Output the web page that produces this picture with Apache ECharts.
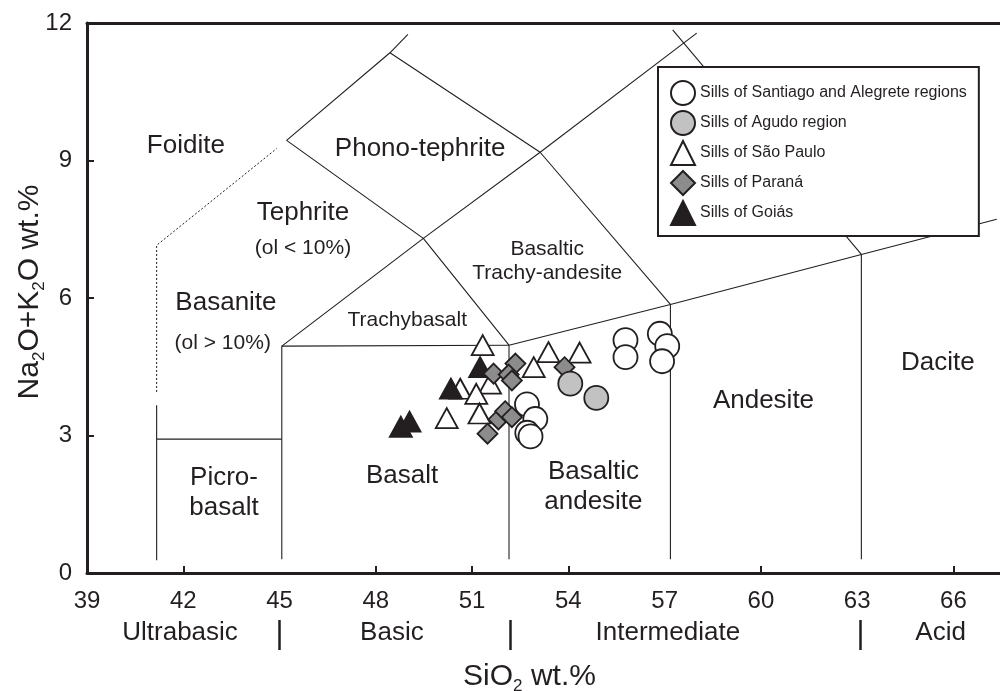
<!DOCTYPE html>
<html lang="en">
<head>
    <meta charset="UTF-8">
    <script src="https://cdn.jsdelivr.net/npm/echarts@6/dist/echarts.min.js"></script>
    <title>TAS diagram - sills</title>
    <style>
        html, body { margin: 0; padding: 0; background: #fff; }
    </style>
</head>
<body>
<div id="main" style="width: 1000px;height:691px;"></div>
<script type="text/javascript">
    // sample points, [SiO2, Na2O+K2O]
    var santiago = [[55.78,5.08],[55.78,4.71],[56.85,5.22],[57.08,4.95],[56.92,4.62],
                    [52.71,3.68],[52.97,3.36],[52.72,3.06],[52.82,2.98]];
    var agudo = [[54.06,4.13],[54.87,3.82]];
    var saoPaulo = [[51.33,4.97],[53.38,4.82],[54.35,4.81],[52.92,4.49],[51.56,4.13],
                    [50.63,4.02],[51.13,3.91],[50.21,3.38],[51.23,3.48]];
    var parana = [[52.35,4.57],[51.67,4.35],[52.14,4.33],[52.24,4.20],[53.88,4.49],
                  [51.82,3.35],[52.03,3.53],[52.24,3.40],[51.48,3.04]];
    var goias = [[51.25,4.49],[50.34,4.02],[48.78,3.19],[49.05,3.30]];

    // field boundaries of the TAS diagram
    var boundaries = [
        [[45.07,0.3],[45.07,4.95],[52.15,4.97]],
        [[52.15,0.3],[52.15,4.97],[57.18,5.86],[63.13,6.95],[67.35,7.72]],
        [[57.18,0.3],[57.18,5.86],[53.12,9.18],[48.44,11.35],[45.22,9.44],[49.48,7.30],[52.15,4.97]],
        [[45.07,4.95],[49.48,7.30],[53.12,9.18],[58.0,11.78]],
        [[48.44,11.35],[49.0,11.75]],
        [[57.25,11.85],[63.13,6.95],[63.13,0.3]],
        [[41.17,0.28],[41.17,3.66]],
        [[41.17,2.92],[45.07,2.92]]
    ];
    var dottedBoundary = [[41.17,3.95],[41.17,7.15],[44.91,9.26]];

    // rock names
    var bigNames = [
        ['Foidite', 42.08, 9.33],
        ['Phono-tephrite', 49.38, 9.26],
        ['Tephrite', 45.73, 7.85],
        ['Basanite', 43.33, 5.89],
        ['Picro-\nbasalt', 43.27, 1.74],
        ['Basalt', 48.82, 2.13],
        ['Basaltic\nandesite', 54.78, 1.87],
        ['Andesite', 60.08, 3.75],
        ['Dacite', 65.51, 4.58]
    ];
    var smallNames = [
        ['(ol < 10%)', 45.73, 7.09],
        ['(ol > 10%)', 43.23, 5.01],
        ['Trachybasalt', 48.98, 5.51],
        ['Basaltic\nTrachy-andesite', 53.34, 6.80]
    ];

    var xTicks = [39, 42, 45, 48, 51, 54, 57, 60, 63, 66];
    var xTickMarks = [42, 48, 51, 54, 60, 66];
    var yTicks = [0, 3, 6, 9, 12];
    var yTickMarks = [3, 6, 9];
    var classNames = ['Ultrabasic', 'Basic', 'Intermediate', 'Acid'];
    var classCenters = [41.9, 48.5, 57.1, 65.6];
    var classBounds = [45, 52.2, 63.1];

    var ink = '#231f20';
    var font = "'Liberation Sans', Arial, Helvetica, sans-serif";

    var myChart = echarts.init(document.getElementById('main'));

    var series = [];
    boundaries.forEach(function (b) {
        series.push({
            type: 'line', data: b, showSymbol: false, silent: true, z: 1,
            lineStyle: {color: ink, width: 1.1}
        });
    });
    series.push({
        type: 'line', data: dottedBoundary, showSymbol: false, silent: true, z: 1,
        lineStyle: {color: ink, width: 1, type: [2, 2]}
    });

    function nameSeries(list, size, lh) {
        return {
            type: 'scatter', silent: true, z: 2, symbolSize: 1,
            itemStyle: {color: 'transparent', opacity: 1},
            data: list.map(function (n) { return {name: n[0], value: [n[1], n[2]]}; }),
            label: {
                show: true, position: 'inside', formatter: '{b}',
                color: ink, fontFamily: font, fontSize: size, lineHeight: lh, align: 'center'
            }
        };
    }
    series.push(nameSeries(bigNames, 26, 30));
    series.push(nameSeries(smallNames, 21, 24));

    var mk = {borderColor: ink, borderWidth: 1.8, opacity: 1};
    series.push({
        name: 'Sills of São Paulo', type: 'scatter', z: 3, data: saoPaulo,
        symbol: 'triangle', symbolSize: [22, 20],
        itemStyle: Object.assign({color: '#ffffff'}, mk)
    });
    series.push({
        name: 'Sills of Goiás', type: 'scatter', z: 3, data: goias,
        symbol: 'triangle', symbolSize: [22, 20],
        itemStyle: Object.assign({color: ink}, mk)
    });
    series.push({
        name: 'Sills of Paraná', type: 'scatter', z: 3, data: parana,
        symbol: 'diamond', symbolSize: [20, 20],
        itemStyle: Object.assign({color: '#8c8c8c'}, mk)
    });
    series.push({
        name: 'Sills of Santiago and Alegrete regions', type: 'scatter', z: 3, data: santiago,
        symbol: 'circle', symbolSize: 24,
        itemStyle: Object.assign({color: '#ffffff'}, mk)
    });
    series.push({
        name: 'Sills of Agudo region', type: 'scatter', z: 3, data: agudo,
        symbol: 'circle', symbolSize: 24,
        itemStyle: Object.assign({color: '#c2c2c2'}, mk)
    });

    var option = {
        animation: false,
        backgroundColor: '#fff',
        textStyle: {fontFamily: font, color: ink},
        grid: {left: 87, right: 0, top: 23, bottom: 118, containLabel: false, outerBoundsMode: 'none'},
        legend: {
            orient: 'vertical', left: 658, top: 67,
            backgroundColor: '#fff', borderColor: ink, borderWidth: 2, borderRadius: 0,
            padding: [13, 12, 10, 12], itemGap: 4, itemWidth: 24, itemHeight: 24,
            textStyle: {fontSize: 16, color: ink, fontFamily: font},
            data: ['Sills of Santiago and Alegrete regions', 'Sills of Agudo region',
                   'Sills of São Paulo', 'Sills of Paraná', 'Sills of Goiás']
        },
        xAxis: [
            {
                type: 'value', min: 39, max: 67.45, interval: 3, position: 'bottom',
                name: '{n|SiO}{s|2}{n| wt.%}', nameLocation: 'middle', nameGap: 86,
                nameTextStyle: {
                    padding: [0, 28, 0, 0],
                    rich: {
                        n: {fontSize: 30, lineHeight: 36, color: ink, fontFamily: font},
                        s: {fontSize: 17, lineHeight: 17, verticalAlign: 'bottom', color: ink, fontFamily: font}
                    }
                },
                splitLine: {show: false},
                axisLine: {lineStyle: {color: ink, width: 3}},
                axisTick: {inside: true, length: 7, customValues: xTickMarks, lineStyle: {color: ink, width: 2}},
                axisLabel: {customValues: xTicks, fontSize: 24, color: ink, margin: 16}
            },
            {
                type: 'value', min: 39, max: 67.45, position: 'bottom', offset: 47,
                splitLine: {show: false},
                axisLine: {show: false},
                axisTick: {show: true, inside: false, length: 30, customValues: classBounds,
                           lineStyle: {color: ink, width: 2.5}},
                axisLabel: {
                    customValues: classCenters, fontSize: 26, color: ink, margin: 0,
                    formatter: function (v) {
                        var i = classCenters.indexOf(v);
                        return i >= 0 ? classNames[i] : '';
                    }
                }
            },
            {
                type: 'value', min: 39, max: 67.45, position: 'top',
                splitLine: {show: false},
                axisLine: {lineStyle: {color: ink, width: 3}},
                axisTick: {show: false},
                axisLabel: {show: false}
            }
        ],
        yAxis: {
            type: 'value', min: 0, max: 12, interval: 3,
            name: '{n|Na}{s|2}{n|O+K}{s|2}{n|O wt.%}', nameLocation: 'middle', nameGap: 39, nameRotate: 90,
            nameMoveOverlap: false,
            nameTextStyle: {
                padding: [0, 0, 0, 12],
                rich: {
                    n: {fontSize: 30, lineHeight: 36, color: ink, fontFamily: font},
                    s: {fontSize: 17, lineHeight: 17, verticalAlign: 'bottom', color: ink, fontFamily: font}
                }
            },
            splitLine: {show: false},
            axisLine: {lineStyle: {color: ink, width: 3}},
            axisTick: {inside: true, length: 7, customValues: yTickMarks, lineStyle: {color: ink, width: 2}},
            axisLabel: {customValues: yTicks, fontSize: 24, color: ink, margin: 15}
        },
        series: series
    };

    myChart.setOption(option);
</script>
</body>
</html>
